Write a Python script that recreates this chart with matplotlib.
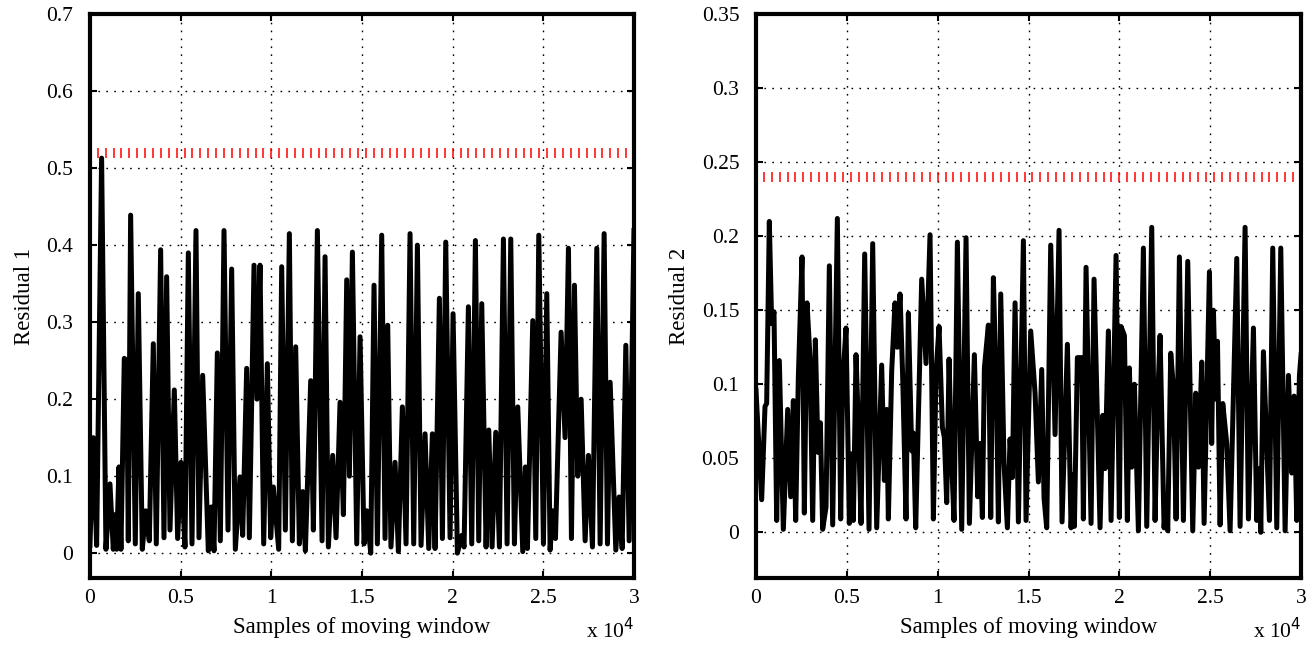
import matplotlib
matplotlib.use("Agg")
import matplotlib.pyplot as plt
import numpy as np

plt.rcParams['font.family'] = ['Liberation Serif', 'DejaVu Serif']

# residual 1: samples and values (peaks and troughs)
x_res1 = [0, 184, 368, 643, 882, 1103, 1287, 1379, 1471, 1600, 1710, 1894, 2023, 2115,
          2243, 2501, 2666, 2887, 3071, 3273, 3494, 3659, 3898, 4082, 4229, 4413, 4652,
          4836, 5020, 5240, 5425, 5627, 5848, 6013, 6216, 6528, 6694, 6841, 7025, 7190,
          7393, 7613, 7815, 8018, 8275, 8422, 8643, 8790, 9048, 9213, 9379, 9581, 9783,
          9967, 10114, 10408, 10574, 10776, 10997, 11162, 11346, 11548, 11732, 11880,
          12174, 12321, 12542, 12799, 12965, 13148, 13387, 13571, 13792, 13976, 14160,
          14307, 14473, 14712, 14896, 15116, 15263, 15484, 15666, 15850, 16089, 16273,
          16420, 16600, 16825, 17008, 17229, 17431, 17652, 17854, 18057, 18259, 18480,
          18682, 18884, 19031, 19270, 19436, 19620, 19859, 20024, 20263, 20502, 20631,
          20870, 21054, 21256, 21440, 21606, 21845, 21992, 22176, 22378, 22580, 22801,
          23004, 23206, 23408, 23592, 23868, 24015, 24125, 24420, 24585, 24751, 25008,
          25192, 25376, 25523, 25670, 25983, 26200, 26387, 26552, 26718, 26900, 27086,
          27307, 27490, 27711, 27950, 28134, 28355, 28539, 28686, 28999, 29183, 29349,
          29551, 29735, 30000]
y_res1 = [0.01, 0.15, 0.01, 0.513, 0.005, 0.09, 0.005, 0.05, 0.005, 0.112, 0.005, 0.253,
          0.25, 0.016, 0.439, 0.012, 0.337, 0.005, 0.055, 0.016, 0.272, 0.012, 0.394,
          0.02, 0.359, 0.03, 0.212, 0.019, 0.118, 0.008, 0.39, 0.012, 0.419, 0.02, 0.231,
          0.003, 0.06, 0.003, 0.26, 0.016, 0.419, 0.03, 0.369, 0.005, 0.099, 0.023, 0.24,
          0.02, 0.374, 0.2, 0.374, 0.012, 0.246, 0.02, 0.086, 0.005, 0.372, 0.03, 0.415,
          0.016, 0.268, 0.012, 0.08, 0.003, 0.224, 0.03, 0.419, 0.016, 0.385, 0.008,
          0.127, 0.02, 0.196, 0.05, 0.355, 0.1, 0.391, 0.012, 0.281, 0.012, 0.055, 0.0,
          0.348, 0.012, 0.413, 0.019, 0.296, 0.008, 0.118, 0.002, 0.19, 0.012, 0.415,
          0.012, 0.4, 0.01, 0.155, 0.006, 0.155, 0.006, 0.331, 0.019, 0.404, 0.02, 0.311,
          0.0, 0.023, 0.008, 0.32, 0.012, 0.406, 0.016, 0.324, 0.008, 0.16, 0.008, 0.157,
          0.008, 0.408, 0.012, 0.408, 0.012, 0.19, 0.002, 0.112, 0.006, 0.302, 0.019,
          0.413, 0.012, 0.337, 0.004, 0.055, 0.019, 0.287, 0.15, 0.396, 0.019, 0.348, 0.1,
          0.2, 0.016, 0.127, 0.008, 0.396, 0.012, 0.415, 0.012, 0.222, 0.004, 0.073,
          0.006, 0.27, 0.016, 0.419]

# residual 2
x_res2 = [0, 312, 496, 587, 734, 863, 991, 1138, 1285, 1505, 1744, 1909, 2056, 2184, 2331,
          2533, 2661, 2808, 2973, 3120, 3267, 3414, 3542, 3670, 3854, 4037, 4220, 4478,
          4661, 4771, 4955, 5138, 5267, 5359, 5505, 5634, 5781, 5982, 6221, 6423, 6643,
          6918, 7065, 7194, 7285, 7469, 7652, 7781, 7927, 8074, 8257, 8386, 8570, 8662,
          8790, 9120, 9359, 9579, 9763, 9909, 10075, 10258, 10368, 10497, 10625, 10772,
          10900, 11084, 11322, 11561, 11745, 12020, 12203, 12332, 12460, 12570, 12790,
          12919, 13066, 13249, 13341, 13470, 13653, 13837, 13983, 14112, 14259, 14442,
          14717, 14863, 15120, 15359, 15542, 15726, 15854, 16001, 16221, 16460, 16680,
          16845, 17139, 17340, 17469, 17524, 17689, 17928, 18019, 18166, 18442, 18606,
          18937, 19084, 19212, 19396, 19543, 19818, 20001, 20093, 20277, 20441, 20552,
          20680, 20827, 21047, 21322, 21506, 21781, 21965, 22093, 22240, 22460, 22570,
          22662, 22827, 22974, 23121, 23304, 23524, 23763, 24038, 24204, 24350, 24534,
          24663, 24957, 25080, 25177, 25300, 25400, 25544, 25690, 25910, 26094, 26460,
          26644, 26919, 27103, 27378, 27561, 27708, 27782, 27928, 28259, 28442, 28663,
          28883, 29122, 29305, 29488, 29617, 29763, 29910, 30000]
y_res2 = [0.096, 0.022, 0.085, 0.087, 0.21, 0.141, 0.149, 0.008, 0.116, 0.002, 0.083,
          0.024, 0.089, 0.008, 0.105, 0.186, 0.013, 0.155, 0.118, 0.008, 0.13, 0.054,
          0.074, 0.002, 0.017, 0.18, 0.005, 0.212, 0.009, 0.102, 0.138, 0.006, 0.053,
          0.008, 0.12, 0.073, 0.006, 0.188, 0.002, 0.195, 0.003, 0.113, 0.035, 0.083,
          0.009, 0.109, 0.155, 0.125, 0.161, 0.105, 0.009, 0.148, 0.055, 0.067, 0.003,
          0.171, 0.114, 0.201, 0.009, 0.108, 0.139, 0.071, 0.064, 0.02, 0.117, 0.046,
          0.008, 0.196, 0.002, 0.199, 0.006, 0.12, 0.024, 0.06, 0.01, 0.111, 0.14, 0.01,
          0.172, 0.082, 0.007, 0.161, 0.046, 0.003, 0.063, 0.037, 0.155, 0.007, 0.197,
          0.008, 0.136, 0.094, 0.034, 0.11, 0.023, 0.003, 0.194, 0.066, 0.204, 0.007,
          0.127, 0.003, 0.039, 0.004, 0.118, 0.118, 0.009, 0.179, 0.006, 0.171, 0.003,
          0.079, 0.043, 0.136, 0.008, 0.187, 0.01, 0.139, 0.133, 0.008, 0.111, 0.044, 0.1,
          0.001, 0.192, 0.004, 0.206, 0.008, 0.084, 0.133, 0.003, 0.02, 0.001, 0.121,
          0.098, 0.009, 0.186, 0.008, 0.183, 0.001, 0.094, 0.044, 0.115, 0.006, 0.176,
          0.06, 0.15, 0.09, 0.129, 0.005, 0.087, 0.06, 0.001, 0.185, 0.004, 0.206, 0.009,
          0.138, 0.008, 0.043, 0.0, 0.122, 0.008, 0.192, 0.003, 0.192, 0.001, 0.106,
          0.04, 0.092, 0.008, 0.106, 0.12]

thresholds = [0.52, 0.24]
residual_names = ["Residual 1", "Residual 2"]
y_limits = [(-0.0325, 0.7), (-0.031, 0.35)]
y_ticks = [[0, 0.1, 0.2, 0.3, 0.4, 0.5, 0.6, 0.7],
           [0, 0.05, 0.1, 0.15, 0.2, 0.25, 0.3, 0.35]]
x_ticks = [0, 5000, 10000, 15000, 20000, 25000, 30000]
x_tick_labels = ["0", "0.5", "1", "1.5", "2", "2.5", "3"]

fig = plt.figure(figsize=(13.15, 6.46), dpi=100)
ax1 = fig.add_axes([0.0684, 0.105, 0.4137, 0.873])
ax2 = fig.add_axes([0.5749, 0.105, 0.4145, 0.873])

data = [(x_res1, y_res1), (x_res2, y_res2)]
for i, ax in enumerate([ax1, ax2]):
    xs, ys = data[i]
    ax.plot(xs, ys, color="black", linewidth=3.6, solid_joinstyle="round", zorder=3)
    # threshold drawn as a row of short red ticks
    xt = np.linspace(0, 30000, 70)
    ax.plot(xt, [thresholds[i]] * len(xt), linestyle="none", marker="|",
            markersize=7.5, markeredgewidth=1.1, color="red", zorder=2)
    ax.set_xlim(0, 30000)
    ax.set_ylim(*y_limits[i])
    ax.set_xticks(x_ticks)
    ax.set_xticklabels(x_tick_labels)
    ax.set_yticks(y_ticks[i])
    ax.set_yticklabels([("%g" % t) for t in y_ticks[i]])
    ax.grid(True, color="black", linestyle=(0, (1.2, 4.5)), linewidth=1.0)
    ax.tick_params(direction="in", top=True, right=True, length=5, width=1.5,
                   labelsize=15.5)
    ax.tick_params(axis="x", pad=8)
    ax.tick_params(axis="y", pad=12)
    for sp in ax.spines.values():
        sp.set_linewidth(3)
    ax.set_xlabel("Samples of moving window", fontsize=16.5, labelpad=6)
    ax.set_ylabel(residual_names[i], fontsize=16.5, labelpad=8)
    ax.text(1.0, -0.093, "x 10$^4$", transform=ax.transAxes, fontsize=15.5,
            ha="right", va="center")

fig.savefig("out.png", dpi=100)
